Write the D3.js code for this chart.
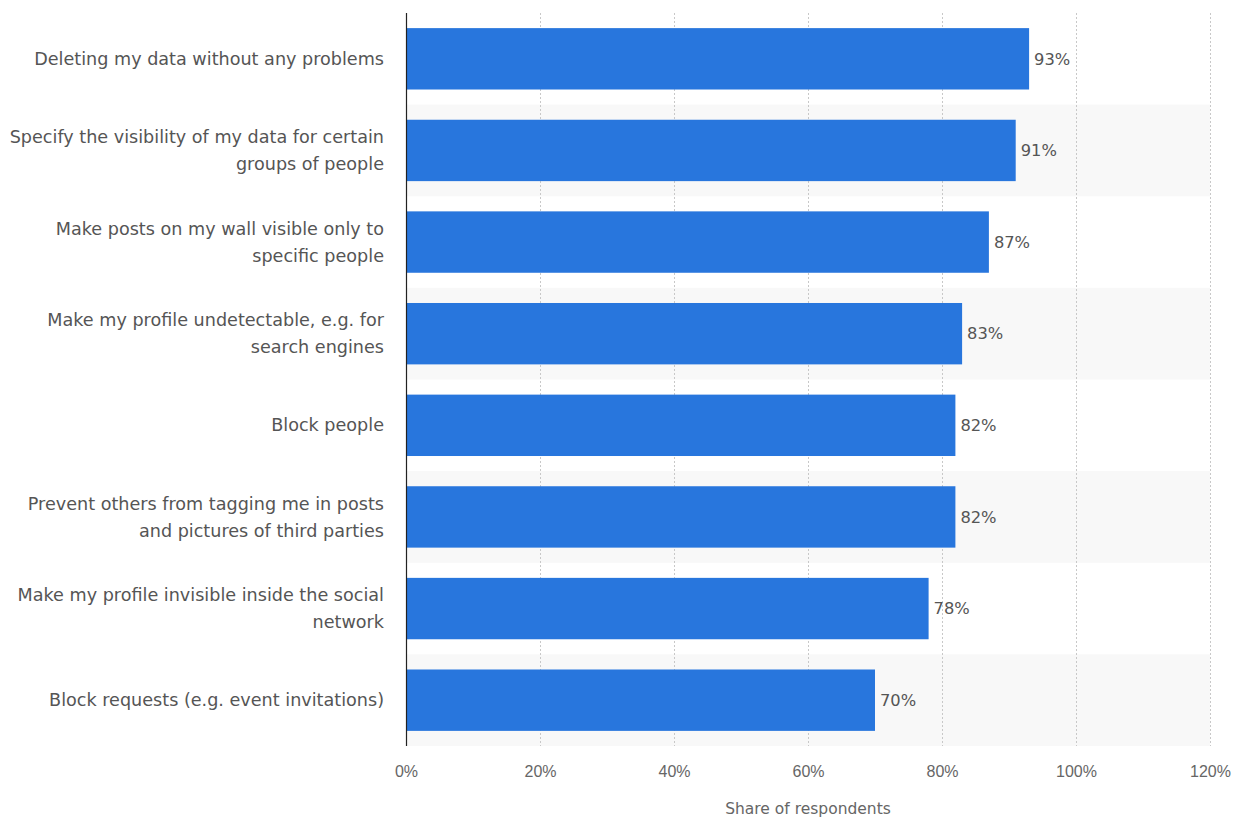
<!DOCTYPE html>
<html>
<head>
<meta charset="utf-8">
<script src="https://cdn.jsdelivr.net/npm/d3@7"></script>
<style>
  html, body { margin: 0; padding: 0; background: #fff; }
  svg { display: block; font-family: "DejaVu Sans", sans-serif; }
</style>
</head>
<body>
<svg id="chart" width="1237" height="819"></svg>
<script>
// Privacy settings wanted by social network users (share of respondents)
const categories = [
  ["Deleting my data without any problems"],
  ["Specify the visibility of my data for certain", "groups of people"],
  ["Make posts on my wall visible only to", "specific people"],
  ["Make my profile undetectable, e.g. for", "search engines"],
  ["Block people"],
  ["Prevent others from tagging me in posts", "and pictures of third parties"],
  ["Make my profile invisible inside the social", "network"],
  ["Block requests (e.g. event invitations)"]
];
const values = [93, 91, 87, 83, 82, 82, 78, 70];
const xTicks = [0, 20, 40, 60, 80, 100, 120];
const xAxisTitle = "Share of respondents";

const svg = d3.select("#chart");
const margin = { left: 406, right: 27, top: 13, bottom: 73 };
const W = 1237, H = 819;

const x = d3.scaleLinear().domain([0, 120]).range([margin.left, W - margin.right]);
const y = d3.scaleBand()
  .domain(d3.range(values.length))
  .range([margin.top, H - margin.bottom])
  .paddingInner(0.33)
  .paddingOuter(0.165);

const step = y.step();
const bandTop = i => y(i) - (step - y.bandwidth()) / 2;

// alternating row shading
svg.append("g").selectAll("rect")
  .data(d3.range(values.length).filter(i => i % 2 === 1))
  .join("rect")
  .attr("x", x(0))
  .attr("y", i => bandTop(i))
  .attr("width", x(120) - x(0))
  .attr("height", step)
  .attr("fill", "#f8f8f8");

// vertical dotted gridlines
svg.append("g").selectAll("line")
  .data(xTicks.filter(t => t > 0))
  .join("line")
  .attr("x1", d => x(d) + 0.5).attr("x2", d => x(d) + 0.5)
  .attr("y1", margin.top).attr("y2", H - margin.bottom)
  .attr("stroke", "#c8c8c8")
  .attr("stroke-width", 1)
  .attr("stroke-dasharray", "2,2");

// bars
svg.append("g").selectAll("rect")
  .data(values)
  .join("rect")
  .attr("x", x(0))
  .attr("y", (d, i) => y(i))
  .attr("width", d => x(d) - x(0))
  .attr("height", y.bandwidth())
  .attr("fill", "#2876dd");

// value labels
svg.append("g").selectAll("text")
  .data(values)
  .join("text")
  .attr("x", d => x(d) + 5)
  .attr("y", (d, i) => y(i) + y.bandwidth() / 2)
  .attr("dy", "0.35em")
  .attr("font-size", 16.3)
  .attr("fill", "#555")
  .text(d => d + "%");

// category labels
const catG = svg.append("g");
categories.forEach((lines, i) => {
  const cy = y(i) + y.bandwidth() / 2;
  const lh = 27;
  const t = catG.append("text")
    .attr("text-anchor", "end")
    .attr("font-size", 17.6)
    .attr("fill", "#555");
  lines.forEach((ln, k) => {
    t.append("tspan")
      .attr("x", x(0) - 22)
      .attr("y", cy + (k - (lines.length - 1) / 2) * lh)
      .attr("dy", "0.35em")
      .text(ln);
  });
});

// x axis
const xAxis = d3.axisBottom(x)
  .tickValues(xTicks)
  .tickFormat(d => d + "%")
  .tickSize(0)
  .tickPadding(20);
const axG = svg.append("g")
  .attr("transform", `translate(0,${H - margin.bottom})`)
  .call(xAxis);
axG.select(".domain").remove();
axG.selectAll("text")
  .attr("font-size", 16)
  .attr("fill", "#666")
  .attr("font-family", "inherit");

// baseline at 0%
svg.append("line")
  .attr("x1", x(0) + 0.5).attr("x2", x(0) + 0.5)
  .attr("y1", margin.top).attr("y2", H - margin.bottom)
  .attr("stroke", "#222")
  .attr("stroke-width", 1.2);

// axis title
svg.append("text")
  .attr("x", (x(0) + x(120)) / 2)
  .attr("y", 809)
  .attr("dy", "0.35em")
  .attr("text-anchor", "middle")
  .attr("font-size", 15.5)
  .attr("fill", "#666")
  .text(xAxisTitle);
</script>
</body>
</html>
